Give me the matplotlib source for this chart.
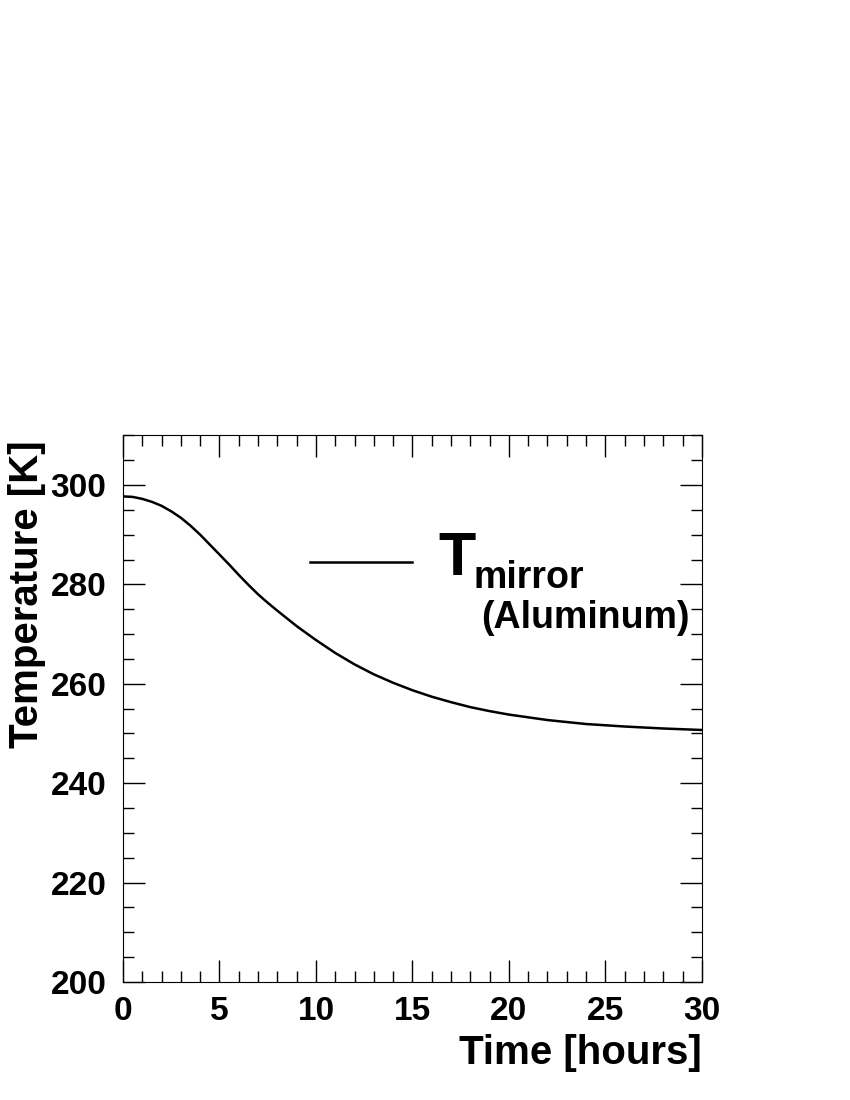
import matplotlib
matplotlib.use("Agg")
import matplotlib.pyplot as plt
from matplotlib.ticker import MultipleLocator

plt.rcParams['font.family'] = ['Liberation Sans', 'DejaVu Sans']
plt.rcParams['font.weight'] = 'bold'

time_h = [0, 0.5, 1, 1.5, 2, 2.5, 3, 3.5, 4, 4.5, 5, 5.5, 6, 6.5, 7, 7.5, 8, 9, 10, 11, 12, 13, 14,
          15, 16, 17, 18, 19, 20, 22, 24, 26, 28, 30]
temp_k = [297.7, 297.6, 297.2, 296.6, 295.8, 294.7, 293.4, 291.8, 290.0, 288.0, 286.0, 284.0,
          281.9, 279.9, 278.0, 276.3, 274.7, 271.6, 268.8, 266.2, 263.9, 261.9, 260.2,
          258.7, 257.4, 256.3, 255.3, 254.5, 253.8, 252.7, 251.9, 251.4, 251.0, 250.7]

fig = plt.figure(figsize=(8.5, 11), dpi=100)
ax = fig.add_axes([0.1447, 0.1073, 0.681, 0.497])
ax.plot(time_h, temp_k, color='black', lw=1.8)
ax.set_xlim(0, 30)
ax.set_ylim(200, 310)
ax.xaxis.set_major_locator(MultipleLocator(5))
ax.xaxis.set_minor_locator(MultipleLocator(1))
ax.yaxis.set_major_locator(MultipleLocator(20))
ax.yaxis.set_minor_locator(MultipleLocator(5))
ax.tick_params(which='both', direction='in', top=True, right=True, labelsize=24, width=1)
ax.tick_params(which='major', length=16)
ax.tick_params(which='minor', length=8)
ax.tick_params(axis='x', pad=10)
ax.tick_params(axis='y', pad=12)
for lab in ax.get_xticklabels() + ax.get_yticklabels():
    lab.set_fontweight('bold')

fig.text(0.826, 0.033, 'Time [hours]', ha='right', fontsize=29, fontweight='bold')
fig.text(0.010, 0.600, 'Temperature [K]', rotation=90, ha='left', va='top', fontsize=29, fontweight='bold')

# legend
fig.add_artist(plt.Line2D([310 / 850, 412 / 850], [1 - 562 / 1100] * 2, color='black', lw=1.8))
fig.text(438 / 850, 1 - 575 / 1100, 'T', fontsize=44, fontweight='bold')
fig.text(473 / 850, 1 - 588 / 1100, 'mirror', fontsize=27, fontweight='bold')
fig.text(481 / 850, 1 - 628 / 1100, '(Aluminum)', fontsize=27, fontweight='bold')

fig.savefig('out.png')
